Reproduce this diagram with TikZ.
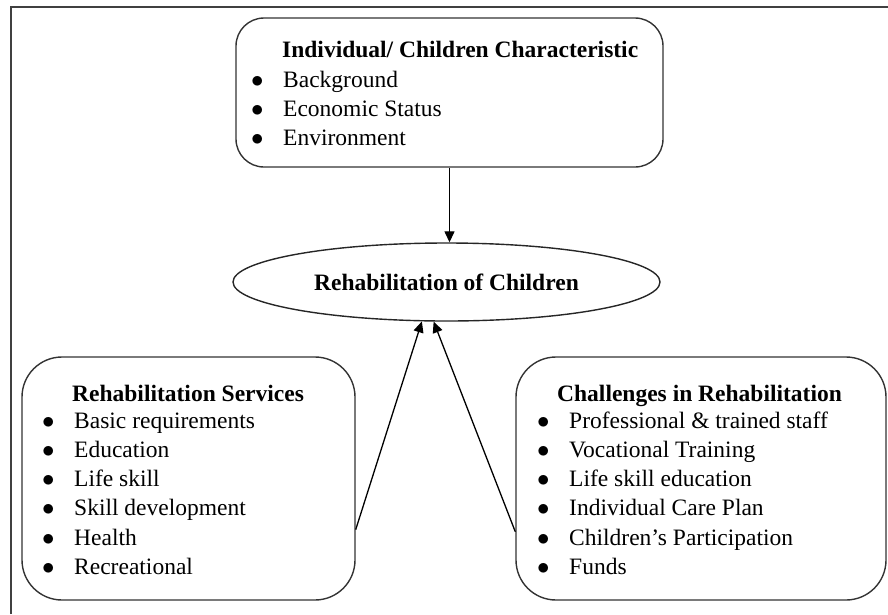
\documentclass[tikz,border=0pt]{standalone}
\usepackage{fontspec}
\setmainfont{Liberation Serif}
\usepackage{tikz}
\usetikzlibrary{arrows.meta,positioning,shapes.geometric}
\newcommand{\blist}[1]{\begin{tabular}[t]{@{}p{32pt}@{}l@{}}#1\end{tabular}}
\newcommand{\bul}{$\bullet$}

\begin{document}
\begin{tikzpicture}[
    x=1pt, y=-1pt,
    box/.style={rectangle, draw=black!80, line width=1.4pt, inner sep=0pt},
    head/.style={anchor=base west, inner sep=0pt, font=\fontsize{23.5}{29.3}\selectfont\bfseries},
    list/.style={anchor=base west, inner sep=0pt, font=\fontsize{23.5}{29.3}\selectfont},
    arrow/.style={-{Triangle[length=11pt,width=10pt]}, line width=1.3pt},
    frame/.style={line width=2.6pt, draw=black!75}
]
  \useasboundingbox (0,0) rectangle (888,614);

  % Outer frame
  \draw[frame] (11,614) -- (11,7) -- (888,7);

  % Individual characteristics
  \node[box, rounded corners=28pt, minimum width=427pt, minimum height=149pt] (chars) at (449.5,92.5) {};
  \node[head] (charshead) at (282,57) {Individual/ Children Characteristic};
  \node[list] (charslist) at (251,87) {\blist{%
      \bul & Background\\
      \bul & Economic Status\\
      \bul & Environment}};

  % Rehabilitation
  \node[ellipse, draw=black!85, line width=1.4pt, minimum width=427pt, minimum height=78pt,
        inner sep=0pt, font=\fontsize{23.5}{29.3}\selectfont\bfseries] (rehab) at (446.5,282)
        {Rehabilitation of Children};

  % Services
  \node[box, rounded corners=40pt, minimum width=333pt, minimum height=243pt] (services) at (188.5,478.5) {};
  \node[head] (serviceshead) at (72,401) {Rehabilitation Services};
  \node[list] (serviceslist) at (42,428) {\blist{%
      \bul & Basic requirements\\
      \bul & Education\\
      \bul & Life skill\\
      \bul & Skill development\\
      \bul & Health\\
      \bul & Recreational}};

  % Challenges
  \node[box, rounded corners=40pt, minimum width=370pt, minimum height=243pt] (challenges) at (701,478.5) {};
  \node[head] (challengeshead) at (557,401) {Challenges in Rehabilitation};
  \node[list] (challengeslist) at (537,428) {\blist{%
      \bul & Professional \& trained staff\\
      \bul & Vocational Training\\
      \bul & Life skill education\\
      \bul & Individual Care Plan\\
      \bul & Children’s Participation\\
      \bul & Funds}};

  % Arrows
  \draw[arrow] (chars.south) -- (chars.south |- rehab.north);
  \draw[arrow] (services.-17) -- (rehab.238);
  \draw[arrow] (challenges.196) -- (rehab.252);

\end{tikzpicture}
\end{document}
